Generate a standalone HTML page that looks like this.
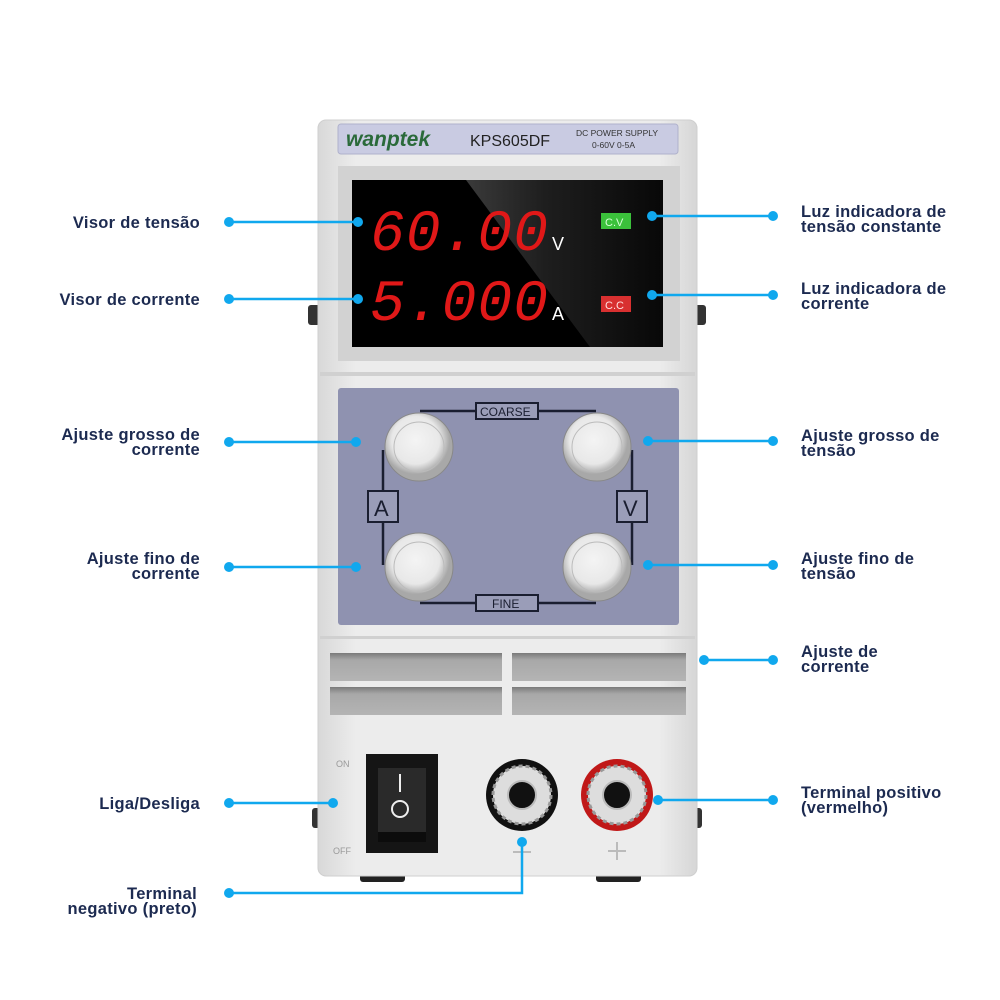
<!DOCTYPE html>
<html><head><meta charset="utf-8"><style>body{margin:0;background:#fff}svg{display:block}
.t{font-family:"Liberation Sans",sans-serif;font-size:16.5px;fill:#1c2a50;font-weight:bold;letter-spacing:0.3px}
</style></head><body>
<svg width="1000" height="1000" viewBox="0 0 1000 1000" xmlns="http://www.w3.org/2000/svg">
<defs>
<linearGradient id="body" x1="0" x2="1"><stop offset="0" stop-color="#d8d8d8"/><stop offset=".1" stop-color="#ececec"/><stop offset=".9" stop-color="#ececec"/><stop offset="1" stop-color="#d6d6d6"/></linearGradient>
<radialGradient id="knob" cx=".45" cy=".4"><stop offset="0" stop-color="#f4f4f4"/><stop offset=".7" stop-color="#e8e8e8"/><stop offset="1" stop-color="#a8a8a8"/></radialGradient>
<linearGradient id="hl" x1="0" y1="0" x2="1" y2="0"><stop offset="0" stop-color="#3a3a3a"/><stop offset=".4" stop-color="#1e1e1e"/><stop offset="1" stop-color="#080808"/></linearGradient>
<linearGradient id="vent" x1="0" y1="0" x2="0" y2="1"><stop offset="0" stop-color="#7a7a7a"/><stop offset=".25" stop-color="#a8a8a8"/><stop offset="1" stop-color="#b4b4b4"/></linearGradient>
</defs>
<rect x="360" y="872" width="45" height="10" rx="3" fill="#222"/>
<rect x="596" y="872" width="45" height="10" rx="3" fill="#222"/>
<rect x="308" y="305" width="12" height="20" rx="3" fill="#333"/>
<rect x="694" y="305" width="12" height="20" rx="3" fill="#333"/>
<rect x="312" y="808" width="8" height="20" rx="3" fill="#333"/>
<rect x="694" y="808" width="8" height="20" rx="3" fill="#333"/>
<rect x="318" y="120" width="379" height="756" rx="8" fill="url(#body)" stroke="#cfcfcf"/>
<rect x="338" y="124" width="340" height="30" rx="3" fill="#c9cbe2" stroke="#b0b2cc"/>
<text x="346" y="146" font-family="Liberation Sans,sans-serif" font-size="21" font-style="italic" font-weight="bold" fill="#2a6a3a">wanptek</text>
<text x="470" y="146" font-family="Liberation Sans,sans-serif" font-size="16" fill="#222">KPS605DF</text>
<text x="576" y="136" font-family="Liberation Sans,sans-serif" font-size="8.5" fill="#333">DC POWER SUPPLY</text>
<text x="592" y="148" font-family="Liberation Sans,sans-serif" font-size="8.5" fill="#333">0-60V  0-5A</text>
<rect x="338" y="166" width="342" height="195" fill="#d2d2d2"/>
<rect x="352" y="180" width="311" height="167" fill="#000"/>
<polygon points="466,180 663,180 663,347 590,347" fill="url(#hl)"/>
<text x="370" y="250" font-family="Liberation Mono,monospace" font-size="58" font-style="italic" fill="#e01818" textLength="178">60.00</text>
<text x="552" y="250" font-family="Liberation Sans,sans-serif" font-size="18" fill="#fff">V</text>
<text x="370" y="320" font-family="Liberation Mono,monospace" font-size="58" font-style="italic" fill="#e01818" textLength="178">5.000</text>
<text x="552" y="320" font-family="Liberation Sans,sans-serif" font-size="18" fill="#fff">A</text>
<rect x="601" y="213" width="30" height="16" fill="#3bc13b"/>
<text x="605" y="226" font-family="Liberation Sans,sans-serif" font-size="11" fill="#d8ffd8">C.V</text>
<rect x="601" y="296" width="30" height="16" fill="#d83030"/>
<text x="605" y="309" font-family="Liberation Sans,sans-serif" font-size="11" fill="#ffe0e0">C.C</text>
<rect x="320" y="372" width="375" height="4" fill="#d0d0d0"/>
<rect x="338" y="388" width="341" height="237" rx="3" fill="#8f92b0"/>
<g stroke="#1a1e30" stroke-width="2.5" fill="none">
<path d="M420 411 H596"/><path d="M383 450 V565"/><path d="M632 450 V565"/><path d="M420 603 H596"/>
</g>
<rect x="476" y="403" width="62" height="16" fill="#9a9db8" stroke="#1a1e30" stroke-width="2"/>
<text x="480" y="416" font-family="Liberation Sans,sans-serif" font-size="12" fill="#1a1e30">COARSE</text>
<rect x="476" y="595" width="62" height="16" fill="#9a9db8" stroke="#1a1e30" stroke-width="2"/>
<text x="492" y="608" font-family="Liberation Sans,sans-serif" font-size="12" fill="#1a1e30">FINE</text>
<rect x="368" y="491" width="30" height="31" fill="#9a9db8" stroke="#1a1e30" stroke-width="2"/>
<text x="374" y="516" font-family="Liberation Sans,sans-serif" font-size="22" fill="#1a1e30">A</text>
<rect x="617" y="491" width="30" height="31" fill="#9a9db8" stroke="#1a1e30" stroke-width="2"/>
<text x="623" y="516" font-family="Liberation Sans,sans-serif" font-size="22" fill="#1a1e30">V</text>
<g>
<circle cx="419" cy="447" r="34" fill="url(#knob)" stroke="#888"/><circle cx="419" cy="447" r="25" fill="none" stroke="#bbb"/>
<circle cx="597" cy="447" r="34" fill="url(#knob)" stroke="#888"/><circle cx="597" cy="447" r="25" fill="none" stroke="#bbb"/>
<circle cx="419" cy="567" r="34" fill="url(#knob)" stroke="#888"/><circle cx="419" cy="567" r="25" fill="none" stroke="#bbb"/>
<circle cx="597" cy="567" r="34" fill="url(#knob)" stroke="#888"/><circle cx="597" cy="567" r="25" fill="none" stroke="#bbb"/>
</g>
<rect x="320" y="636" width="375" height="3" fill="#d0d0d0"/>
<g fill="url(#vent)">
<rect x="330" y="653" width="172" height="28"/><rect x="512" y="653" width="174" height="28"/>
<rect x="330" y="687" width="172" height="28"/><rect x="512" y="687" width="174" height="28"/>
</g>
<text x="336" y="767" font-family="Liberation Sans,sans-serif" font-size="9" fill="#999">ON</text>
<text x="333" y="854" font-family="Liberation Sans,sans-serif" font-size="9" fill="#999">OFF</text>
<rect x="366" y="754" width="72" height="99" fill="#151515"/>
<rect x="378" y="768" width="48" height="64" fill="#2a2a2a"/>
<rect x="378" y="832" width="48" height="10" fill="#0c0c0c"/>
<line x1="400" y1="774" x2="400" y2="792" stroke="#eee" stroke-width="2"/>
<circle cx="400" cy="809" r="8" fill="none" stroke="#eee" stroke-width="2"/>
<circle cx="522" cy="795" r="36" fill="#111"/><circle cx="522" cy="795" r="29" fill="#ddd" stroke="#999" stroke-dasharray="4 3" stroke-width="3"/>
<circle cx="522" cy="795" r="14" fill="#111" stroke="#bbb" stroke-width="2"/>
<circle cx="617" cy="795" r="36" fill="#c01818"/><circle cx="617" cy="795" r="29" fill="#ddd" stroke="#999" stroke-dasharray="4 3" stroke-width="3"/>
<circle cx="617" cy="795" r="14" fill="#111" stroke="#bbb" stroke-width="2"/>
<line x1="513" y1="852" x2="531" y2="852" stroke="#bbb" stroke-width="2"/>
<path d="M617 842 V860 M608 851 H626" stroke="#bbb" stroke-width="2"/>
<g stroke="#10a8ee" stroke-width="2.5" fill="none">
<path d="M229 222 H358"/><path d="M229 299 H358"/><path d="M229 442 H356"/><path d="M229 567 H356"/>
<path d="M229 803 H333"/><path d="M229 893 H522 V842"/>
<path d="M652 216 H773"/><path d="M652 295 H773"/><path d="M648 441 H773"/><path d="M648 565 H773"/>
<path d="M704 660 H773"/><path d="M658 800 H773"/>
</g>
<g fill="#10a8ee">
<circle cx="229" cy="222" r="5"/><circle cx="358" cy="222" r="5"/>
<circle cx="229" cy="299" r="5"/><circle cx="358" cy="299" r="5"/>
<circle cx="229" cy="442" r="5"/><circle cx="356" cy="442" r="5"/>
<circle cx="229" cy="567" r="5"/><circle cx="356" cy="567" r="5"/>
<circle cx="229" cy="803" r="5"/><circle cx="333" cy="803" r="5"/>
<circle cx="229" cy="893" r="5"/><circle cx="522" cy="842" r="5"/>
<circle cx="652" cy="216" r="5"/><circle cx="773" cy="216" r="5"/>
<circle cx="652" cy="295" r="5"/><circle cx="773" cy="295" r="5"/>
<circle cx="648" cy="441" r="5"/><circle cx="773" cy="441" r="5"/>
<circle cx="648" cy="565" r="5"/><circle cx="773" cy="565" r="5"/>
<circle cx="704" cy="660" r="5"/><circle cx="773" cy="660" r="5"/>
<circle cx="658" cy="800" r="5"/><circle cx="773" cy="800" r="5"/>
</g>
<g class="t" text-anchor="end">
<text x="200" y="228">Visor de tensão</text>
<text x="200" y="305">Visor de corrente</text>
<text x="200" y="440">Ajuste grosso de</text><text x="200" y="455">corrente</text>
<text x="200" y="564">Ajuste fino de</text><text x="200" y="579">corrente</text>
<text x="200" y="809">Liga/Desliga</text>
<text x="197" y="899">Terminal</text><text x="197" y="914">negativo (preto)</text>
</g>
<g class="t">
<text x="801" y="217">Luz indicadora de</text><text x="801" y="232">tensão constante</text>
<text x="801" y="294">Luz indicadora de</text><text x="801" y="309">corrente</text>
<text x="801" y="441">Ajuste grosso de</text><text x="801" y="456">tensão</text>
<text x="801" y="564">Ajuste fino de</text><text x="801" y="579">tensão</text>
<text x="801" y="657">Ajuste de</text><text x="801" y="672">corrente</text>
<text x="801" y="798">Terminal positivo</text><text x="801" y="813">(vermelho)</text>
</g>
</svg>
</body></html>
